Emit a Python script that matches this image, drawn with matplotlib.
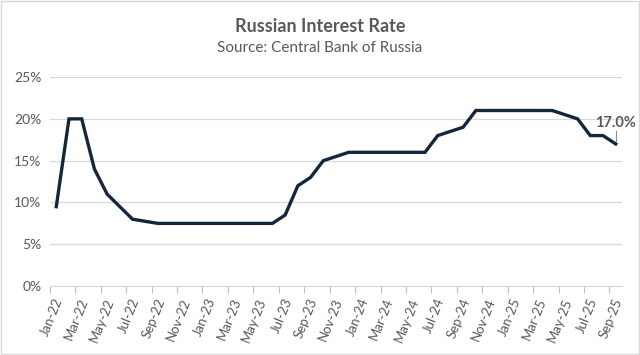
import matplotlib.pyplot as plt
import matplotlib.patches as patches

months = ['Jan-22', 'Feb-22', 'Mar-22', 'Apr-22', 'May-22', 'Jun-22', 'Jul-22', 'Aug-22',
          'Sep-22', 'Oct-22', 'Nov-22', 'Dec-22', 'Jan-23', 'Feb-23', 'Mar-23', 'Apr-23',
          'May-23', 'Jun-23', 'Jul-23', 'Aug-23', 'Sep-23', 'Oct-23', 'Nov-23', 'Dec-23',
          'Jan-24', 'Feb-24', 'Mar-24', 'Apr-24', 'May-24', 'Jun-24', 'Jul-24', 'Aug-24',
          'Sep-24', 'Oct-24', 'Nov-24', 'Dec-24', 'Jan-25', 'Feb-25', 'Mar-25', 'Apr-25',
          'May-25', 'Jun-25', 'Jul-25', 'Aug-25', 'Sep-25']
rates = [9.5, 20, 20, 14, 11, 9.5, 8, 7.75,
         7.5, 7.5, 7.5, 7.5, 7.5, 7.5, 7.5, 7.5,
         7.5, 7.5, 8.5, 12, 13, 15, 15.5, 16,
         16, 16, 16, 16, 16, 16, 18, 18.5,
         19, 21, 21, 21, 21, 21, 21, 21,
         20.5, 20, 18, 18, 17]

gray = '#595959'
plt.rcParams['font.family'] = ['Lato', 'DejaVu Sans']

fig = plt.figure(figsize=(6.4, 3.55), dpi=100)
ax = fig.add_axes([0.078, 0.194, 0.894, 0.589])

x = [i + 0.5 for i in range(len(rates))]
ax.plot(x, rates, color='#14273a', linewidth=2.4, solid_joinstyle='miter')

ax.set_xlim(0, len(rates))
ax.set_ylim(0, 25)
ax.set_yticks([0, 5, 10, 15, 20, 25])
ax.set_yticklabels([f'{v}%' for v in range(0, 30, 5)])
ax.yaxis.grid(True, color='#d9d9d9', linewidth=0.9)
ax.set_axisbelow(True)

# ticks every two months, labels next to them
ax.set_xticks(range(0, len(rates), 2))
ax.set_xticklabels([])
ax.tick_params(axis='x', length=5, color='#bfbfbf', width=0.8)
ax.tick_params(axis='y', length=0, labelsize=10, labelcolor=gray, pad=6)
for i in range(0, len(rates), 2):
    ax.text(i + 0.75, -1.5, months[i], rotation=68, rotation_mode='anchor',
            ha='right', va='center', fontsize=9.5, color=gray)

for s in ['top', 'right', 'left']:
    ax.spines[s].set_visible(False)
ax.spines['bottom'].set_color('#d9d9d9')

# last value label with a small leader line
ax.plot([x[-1], x[-1]], [rates[-1] + 0.3, rates[-1] + 1.6], color='#8c8c8c', lw=0.8)
ax.text(x[-1], rates[-1] + 2.5, f'{rates[-1]:.1f}%', ha='center', va='center',
        fontsize=10.5, fontweight='bold', color=gray)

fig.text(0.5, 0.925, 'Russian Interest Rate', ha='center', va='center',
         fontsize=13, fontweight='bold', color=gray)
fig.text(0.5, 0.865, 'Source: Central Bank of Russia', ha='center', va='center',
         fontsize=11, color=gray)

fig.patches.append(patches.Rectangle((0.001, 0.002), 0.997, 0.995, transform=fig.transFigure,
                                     fill=False, edgecolor='#d9d9d9', linewidth=1))

fig.savefig('out.png', dpi=100, facecolor='white')
